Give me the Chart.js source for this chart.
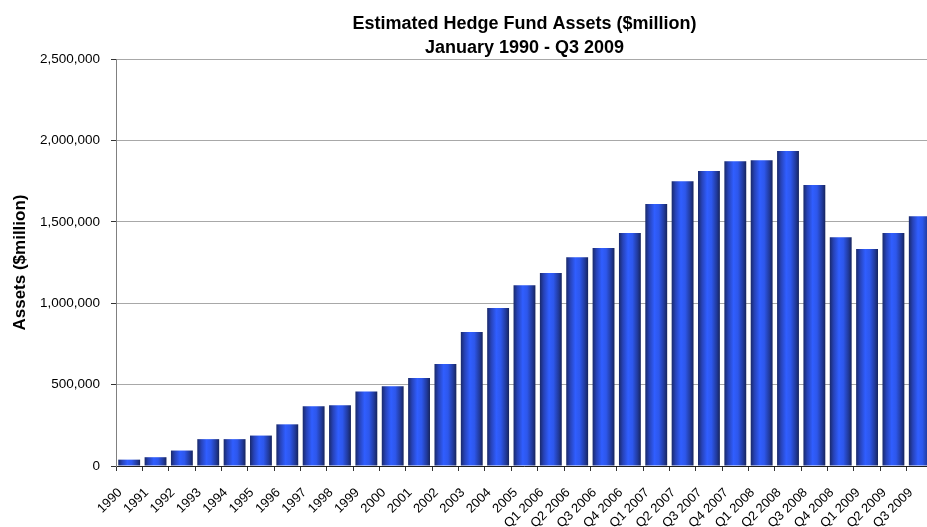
<!DOCTYPE html>
<html lang="en">
<head>
    <meta charset="UTF-8">
    <title>Estimated Hedge Fund Assets</title>
    <style>
        html, body {
            margin: 0;
            padding: 0;
            background: #ffffff;
            overflow: hidden;
        }
        /* the plot runs a little past the right edge of the window, so the last bar is cut */
        #assets-chart {
            position: absolute;
            left: 0;
            top: 0;
        }
    </style>
</head>
<body>
    <canvas id="assets-chart" width="945" height="527"></canvas>

    <script src="https://cdn.jsdelivr.net/npm/chart.js"></script>

    <script>
        // Periods: yearly to 2005, then quarterly
        const periods = [
            "1990", "1991", "1992", "1993", "1994", "1995", "1996", "1997",
            "1998", "1999", "2000", "2001", "2002", "2003", "2004", "2005",
            "Q1 2006", "Q2 2006", "Q3 2006", "Q4 2006",
            "Q1 2007", "Q2 2007", "Q3 2007", "Q4 2007",
            "Q1 2008", "Q2 2008", "Q3 2008", "Q4 2008",
            "Q1 2009", "Q2 2009", "Q3 2009"
        ];

        // Assets in $million
        const assets = [
            39000, 54000, 95000, 165000, 165000, 187000, 256000, 367000,
            373000, 458000, 490000, 540000, 626000, 823000, 970000, 1110000,
            1185000, 1283000, 1339000, 1431000,
            1609000, 1750000, 1812000, 1873000,
            1879000, 1935000, 1726000, 1406000,
            1333000, 1431000, 1535000
        ];

        const yTicks = [0, 500000, 1000000, 1500000, 2000000, 2500000];

        const FONT = "'Liberation Sans', Arial, sans-serif";
        const BAR_PCT = 0.83;

        // Shaded blue fill across each bar, dark at the edges
        function barFill(context) {
            const chart = context.chart;
            if (!chart.chartArea || context.type !== 'data') {
                return '#2f5cf5';
            }
            const xScale = chart.scales.x;
            const center = xScale.getPixelForValue(context.dataIndex);
            const half = xScale.width / periods.length * BAR_PCT / 2;
            const grad = chart.ctx.createLinearGradient(center - half, 0, center + half, 0);
            grad.addColorStop(0, '#19296a');
            grad.addColorStop(0.18, '#2743b8');
            grad.addColorStop(0.42, '#305eff');
            grad.addColorStop(0.62, '#2d57ec');
            grad.addColorStop(0.85, '#213a9c');
            grad.addColorStop(1, '#16245c');
            return grad;
        }

        const ctx = document.getElementById('assets-chart').getContext('2d');
        new Chart(ctx, {
            type: 'bar',
            data: {
                labels: periods,
                datasets: [{
                    label: 'Assets ($million)',
                    data: assets,
                    backgroundColor: barFill,
                    borderWidth: 0,
                    barPercentage: BAR_PCT,
                    categoryPercentage: 1
                }]
            },
            options: {
                responsive: false,
                animation: false,
                layout: {
                    padding: { left: 0, right: 2, top: 0, bottom: 0 }
                },
                plugins: {
                    legend: { display: false },
                    tooltip: { enabled: false },
                    title: {
                        display: true,
                        fullSize: false,   // centred over the plot area
                        text: ['Estimated Hedge Fund Assets ($million)', 'January 1990 - Q3 2009'],
                        color: '#000000',
                        font: { family: FONT, size: 18, weight: 'bold', lineHeight: 1.28 },
                        padding: { top: 13, bottom: 0 }
                    }
                },
                scales: {
                    x: {
                        grid: {
                            display: true,
                            drawOnChartArea: false,
                            offset: true,
                            tickLength: 5,
                            tickColor: '#333333'
                        },
                        border: { color: '#222222', width: 1 },
                        ticks: {
                            autoSkip: false,
                            maxRotation: 45,
                            minRotation: 45,
                            labelOffset: -9,
                            padding: 14,
                            color: '#000000',
                            font: { family: FONT, size: 13 }
                        },
                        afterFit: function(scale) {
                            scale.height = 61;
                        }
                    },
                    y: {
                        min: 0,
                        max: 2500000,
                        afterBuildTicks: function(scale) {
                            scale.ticks = yTicks.map(v => ({ value: v }));
                        },
                        grid: {
                            color: '#a8a8a8',
                            tickLength: 5,
                            tickColor: '#333333'
                        },
                        border: { color: '#808080', width: 1 },
                        ticks: {
                            padding: 11,
                            color: '#000000',
                            font: { family: FONT, size: 13.5 },
                            callback: v => v.toLocaleString('en-US')
                        },
                        title: {
                            display: true,
                            text: 'Assets ($million)',
                            color: '#000000',
                            font: { family: FONT, size: 17, weight: 'bold', lineHeight: 1.2 },
                            padding: { top: 10, bottom: 0 }
                        },
                        afterFit: function(scale) {
                            scale.width = 116;
                        }
                    }
                }
            }
        });
    </script>
</body>
</html>
